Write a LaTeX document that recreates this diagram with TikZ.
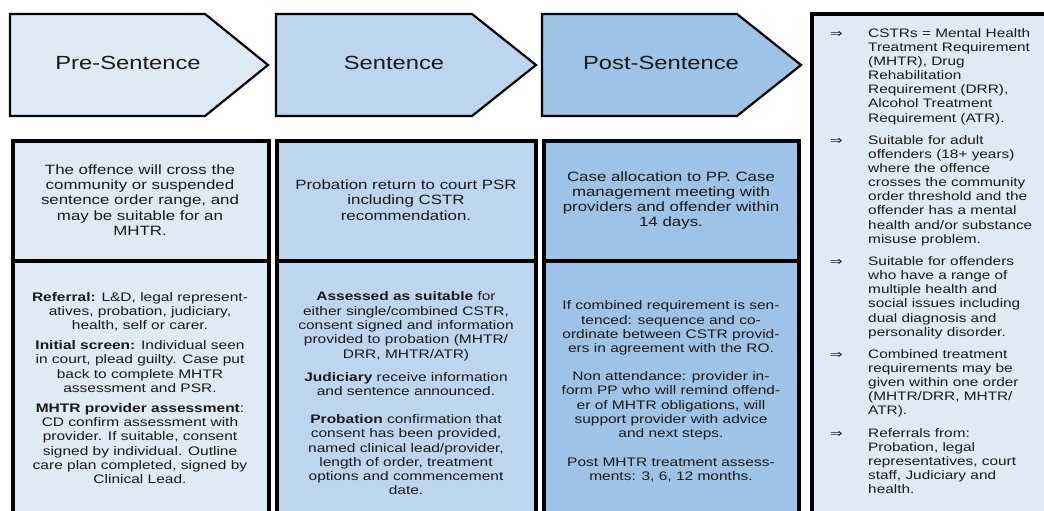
\documentclass[tikz,border=0pt]{standalone}
\usepackage{fontspec}
\setmainfont[FakeStretch=1.25]{Liberation Sans}
\newfontfamily\symfont[FakeStretch=1.3]{DejaVu Sans}
\definecolor{cA}{HTML}{DEEAF6}
\definecolor{cB}{HTML}{BDD6EE}
\definecolor{cC}{HTML}{9DC3E6}
\definecolor{ink}{HTML}{1A1A1A}
\newcommand{\bul}{\makebox[38pt][l]{\symfont\fontsize{11.5}{12}\selectfont ⇒}}
\newcommand{\ind}{\hspace*{38pt}}
\begin{document}
\begin{tikzpicture}[x=1pt,y=-1pt,
  chev/.style={draw=black,line width=2.2pt,line join=miter},
  cell/.style={draw=black,line width=4pt},
  title/.style={font=\fontsize{19}{22}\selectfont,text=ink,inner sep=0pt},
  toptext/.style={font=\fontsize{13.5}{15.2}\selectfont,text=ink,align=center,inner sep=0pt},
  bottext/.style={font=\fontsize{12.4}{14.3}\selectfont,text=ink,align=center,inner sep=0pt},
  sidetext/.style={font=\fontsize{12.3}{14.15}\selectfont,text=ink,align=left,inner sep=0pt,anchor=west}]
\useasboundingbox (0,0) rectangle (1044,511);
\clip (0,0) rectangle (1044,511);
\fill[white] (0,0) rectangle (1044,511);

% chevrons
\draw[chev,fill=cA] (10,14) -- (205,14) -- (268,65) -- (205,116) -- (10,116) -- cycle;
\draw[chev,fill=cB] (276,14) -- (472,14) -- (536,65) -- (472,116) -- (276,116) -- cycle;
\draw[chev,fill=cC] (542,14) -- (737,14) -- (801,65) -- (737,116) -- (542,116) -- cycle;
\node[title] (t1) at (128,62.5) {Pre-Sentence};
\node[title] (t2) at (394,62.5) {Sentence};
\node[title] (t3) at (661,62.5) {Post-Sentence};

% cells
\draw[cell,fill=cA] (12.5,141) rectangle (269,260.5);
\draw[cell,fill=cB] (276.5,141) rectangle (536,260.5);
\draw[cell,fill=cC] (543.5,141) rectangle (799,260.5);
\draw[cell,fill=cA] (12.5,260.5) rectangle (269,540);
\draw[cell,fill=cB] (276.5,260.5) rectangle (536,540);
\draw[cell,fill=cC] (543.5,260.5) rectangle (799,540);
\draw[cell,fill=cA] (811.5,14) rectangle (1070,540);

% row 1 texts
\node[toptext] (r1a) at (140,200) {The offence will cross the\\community or suspended\\sentence order range, and\\may be suitable for an\\MHTR.};
\node[toptext] (r1b) at (406,200) {Probation return to court PSR\\including CSTR\\recommendation.};
\node[toptext] (r1c) at (671,200.5) {Case allocation to PP. Case\\management meeting with\\providers and offender within\\14 days.};

% row 2 texts
\node[bottext] (r2a) at (140,388) {\textbf{Referral:} L\&D, legal represent-\\atives, probation, judiciary,\\health, self or carer.\\[5.5pt]
\textbf{Initial screen:} Individual seen\\in court, plead guilty. Case put\\back to complete MHTR\\assessment and PSR.\\[5.5pt]
\textbf{MHTR provider assessment}:\\CD confirm assessment with\\provider. If suitable, consent\\signed by individual. Outline\\care plan completed, signed by\\Clinical Lead.};
\node[bottext] (r2b) at (406,393.5) {\textbf{Assessed as suitable} for\\either single/combined CSTR,\\consent signed and information\\provided to probation (MHTR/\\DRR, MHTR/ATR)\\[9pt]
\textbf{Judiciary} receive information\\and sentence announced.\\[13.5pt]
\textbf{Probation} confirmation that\\consent has been provided,\\named clinical lead/provider,\\length of order, treatment\\options and commencement\\date.};
\node[bottext] (r2c) at (671,391.5) {If combined requirement is sen-\\tenced: sequence and co-\\ordinate between CSTR provid-\\ers in agreement with the RO.\\[13.5pt]
Non attendance: provider in-\\form PP who will remind offend-\\er of MHTR obligations, will\\support provider with advice\\and next steps.\\[14pt]
Post MHTR treatment assess-\\ments: 3, 6, 12 months.};

% side panel
\node[sidetext] (side) at (830,261) {%
\bul CSTRs = Mental Health\\
\ind Treatment Requirement\\
\ind (MHTR), Drug\\
\ind Rehabilitation\\
\ind Requirement (DRR),\\
\ind Alcohol Treatment\\
\ind Requirement (ATR).\\[8pt]
\bul Suitable for adult\\
\ind offenders (18+ years)\\
\ind where the offence\\
\ind crosses the community\\
\ind order threshold and the\\
\ind offender has a mental\\
\ind health and/or substance\\
\ind misuse problem.\\[8pt]
\bul Suitable for offenders\\
\ind who have a range of\\
\ind multiple health and\\
\ind social issues including\\
\ind dual diagnosis and\\
\ind personality disorder.\\[8pt]
\bul Combined treatment\\
\ind requirements may be\\
\ind given within one order\\
\ind (MHTR/DRR, MHTR/\\
\ind ATR).\\[8pt]
\bul Referrals from:\\
\ind Probation, legal\\
\ind representatives, court\\
\ind staff, Judiciary and\\
\ind health.};
\end{tikzpicture}
\end{document}
